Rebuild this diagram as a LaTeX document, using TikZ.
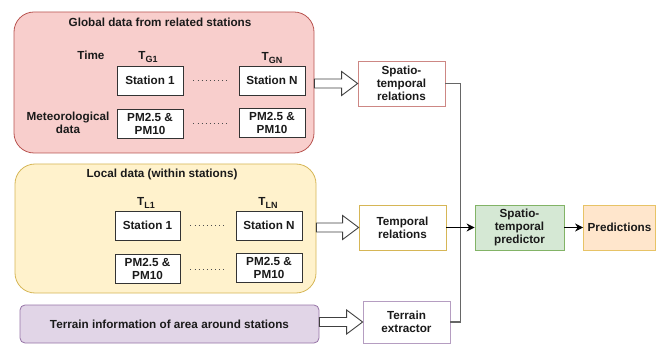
\documentclass[tikz,border=0pt]{standalone}
\usepackage{fontspec}
\setmainfont{Liberation Sans}
\usepackage{xcolor}
\usetikzlibrary{calc,arrows.meta}

\definecolor{pinkfill}{HTML}{F8CECC}
\definecolor{pinkline}{HTML}{B85450}
\definecolor{yelfill}{HTML}{FFF2CC}
\definecolor{yelline}{HTML}{D6B656}
\definecolor{purfill}{HTML}{E1D5E7}
\definecolor{purline}{HTML}{9673A6}
\definecolor{grnfill}{HTML}{D5E8D4}
\definecolor{grnline}{HTML}{82B366}
\definecolor{orgfill}{HTML}{FFE6CC}
\definecolor{orgline}{HTML}{D79B00}
\definecolor{inkgray}{HTML}{1A1A1A}

\newcommand{\tsub}[2]{T\raisebox{-0.45ex}{\small #2}}
\newcommand{\fatarrow}[2]{%
  \draw[fatarr] ($(#1.east |- #2.west)+(0,-4.5)$) -- ($(#2.west)+(-16,-4.5)$)
    -- ($(#2.west)+(-16,-12)$) -- (#2.west) -- ($(#2.west)+(-16,12)$)
    -- ($(#2.west)+(-16,4.5)$) -- ($(#1.east |- #2.west)+(0,4.5)$) -- cycle;}

\begin{document}
\begin{tikzpicture}[x=1pt,y=-1pt,
  font=\fontsize{11.7}{13}\selectfont\bfseries, text=inkgray,
  group/.style={draw, rounded corners=20pt, line width=0.8pt, inner sep=0pt},
  cell/.style={draw=black!80, fill=white, line width=0.9pt, minimum width=66pt,
    minimum height=29pt, inner sep=0pt, align=center},
  stage/.style={draw, fill=white, line width=0.8pt, minimum width=87pt,
    minimum height=45pt, inner sep=0pt, align=center},
  fatarr/.style={draw=black!75, fill=white, line width=0.9pt},
  link/.style={draw=black!60, line width=1.2pt},
  dots/.style={draw=black!70, line width=0.9pt, dash pattern=on 0.9pt off 3.2pt,
    shorten <=10pt, shorten >=12pt}]
  \useasboundingbox (0,0) rectangle (663,344);

  \node[group, draw=pinkline, fill=pinkfill, minimum width=300pt, minimum height=141pt]
    (global) at (164,82.5) {};
  \node (globalttl) at (160,22) {Global data from related stations};
  \node[anchor=east] (gtime) at (108,55) {Time};
  \node (gt1) at (148,57) {\tsub{T}{G1}};
  \node (gtn) at (272,58) {\tsub{T}{GN}};
  \node[cell] (gs1) at (150,80.5) {Station 1};
  \node[cell] (gsn) at (272,80.5) {Station N};
  \node[cell] (gp1) at (150,123.5) {PM2.5 \&\\PM10};
  \node[cell] (gpn) at (272,122.5) {PM2.5 \&\\PM10};
  \node[align=center] (gmet) at (68,123) {Meteorological\\data};
  \draw[dots] (gs1.east) -- (gsn.west);
  \draw[dots] (gp1.east) -- (gp1.east -| gpn.west);

  \node[group, draw=yelline, fill=yelfill, minimum width=301pt, minimum height=129pt]
    (local) at (165.5,228.5) {};
  \node (localttl) at (162,174) {Local data (within stations)};
  \node (lt1) at (146,203) {\tsub{T}{L1}};
  \node (ltn) at (268,203) {\tsub{T}{LN}};
  \node[cell, minimum width=65pt] (ls1) at (147.5,225.5) {Station 1};
  \node[cell] (lsn) at (269,225.5) {Station N};
  \node[cell, minimum width=65pt] (lp1) at (147.5,269) {PM2.5 \&\\PM10};
  \node[cell] (lpn) at (269,267.5) {PM2.5 \&\\PM10};
  \draw[dots] (ls1.east) -- (lsn.west);
  \draw[dots] (lp1.east) -- (lp1.east -| lpn.west);

  \node[group, rounded corners=5pt, draw=purline, fill=purfill, minimum width=299pt,
    minimum height=38pt] (terrain) at (169.5,324) {Terrain information of area around stations};

  \node[stage, draw=pinkline!70] (sprel) at (401.5,83.5) {Spatio-\\temporal\\relations};
  \node[stage, draw=yelline] (trel) at (402.5,227.5) {Temporal\\relations};
  \node[stage, draw=purline!70, minimum height=42pt] (textr) at (406.5,322) {Terrain\\extractor};
  \node[stage, draw=grnline, fill=grnfill, minimum width=89pt] (stpred) at (519.5,227.5)
    {Spatio-\\temporal\\predictor};
  \node[stage, draw=orgline!60, fill=orgfill, minimum width=72pt] (pred) at (619.5,227.5)
    {Predictions};

  \fatarrow{global}{sprel}
  \fatarrow{local}{trel}
  \fatarrow{terrain}{textr}

  \draw[link] (sprel.east) -- ++(15,0) |- (textr.east);
  \draw[link, draw=black, line width=1pt, -{Stealth[length=8pt,width=8pt]}] (trel.east) -- (stpred.west);
  \draw[link, draw=black, line width=1pt, -{Stealth[length=8pt,width=8pt]}] (stpred.east) -- (pred.west);
\end{tikzpicture}
\end{document}
